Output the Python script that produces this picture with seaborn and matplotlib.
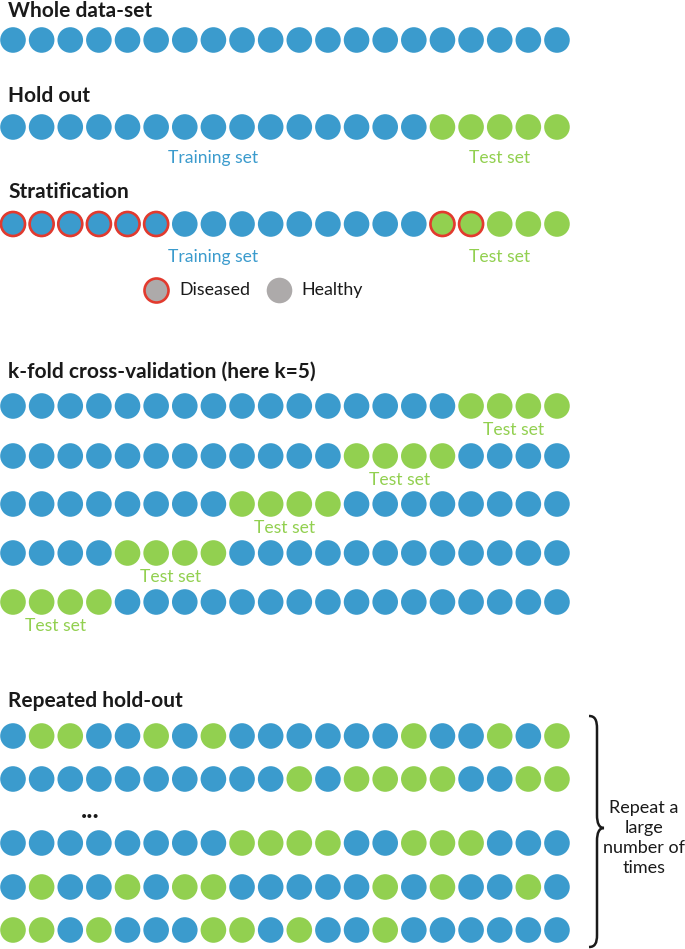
import pandas as pd
import matplotlib.pyplot as plt
import seaborn as sns
from matplotlib.path import Path
from matplotlib.patches import PathPatch

# colours
BLUE = "#3B9BCD"
GREEN = "#92D050"
RED = "#E23A2E"
GREY = "#ADAAAA"
INK = "#1A1A1A"

# ========================
# data: one string per row of samples, B = training, G = test
# ========================
whole = "BBBBBBBBBBBBBBBBBBBB"
holdout = "BBBBBBBBBBBBBBBGGGGG"
strat = "BBBBBBBBBBBBBBBGGGGG"
strat_diseased = "XXXXXX.........XX..."  # X = diseased sample
kfold = [
    "BBBBBBBBBBBBBBBBGGGG",
    "BBBBBBBBBBBBGGGGBBBB",
    "BBBBBBBBGGGGBBBBBBBB",
    "BBBBGGGGBBBBBBBBBBBB",
    "GGGGBBBBBBBBBBBBBBBB",
]
repeated = [
    "BGGBBGBGBBBBBBGBBGBG",
    "BBBBBBBBBBGBGGGGBBGG",
    "BBBBBBBBGGGGBBGGGBBB",
    "BGBBGBGGBBBBBGBGBBGB",
    "GGBGBBBGGBGBBGBBBBBB",
]
legend_labels = ["Diseased", "Healthy"]

# ========================
# layout (pixel rows of the 685x949 picture)
# ========================
row_y = {"whole": 40, "holdout": 127, "strat": 224}
kfold_y = [406, 456, 504, 553, 602]
repeated_y = [736, 779, 843, 887, 930]

rows = [("whole", whole, row_y["whole"]),
        ("holdout", holdout, row_y["holdout"]),
        ("strat", strat, row_y["strat"])]
rows += [(f"kfold{i}", r, y) for i, (r, y) in enumerate(zip(kfold, kfold_y))]
rows += [(f"rep{i}", r, y) for i, (r, y) in enumerate(zip(repeated, repeated_y))]

records = []
for name, pattern, y in rows:
    for i, c in enumerate(pattern):
        records.append({"row": name, "pos": i, "y": y,
                        "set": "train" if c == "B" else "test"})
df = pd.DataFrame(records)

strat_df = df[df["row"] == "strat"].copy()
strat_df["diseased"] = [c == "X" for c in strat_diseased]
diseased_df = strat_df[strat_df["diseased"]]

# ========================
# figure
# ========================
sns.set_style("white")
plt.rcParams["font.family"] = ["Lato", "DejaVu Sans"]

W, H = 685, 949
fig = plt.figure(figsize=(W / 100, H / 100), dpi=100)
ax = fig.add_axes([0, 0, 1, 1])
step = 28.63
ax.set_xlim(-13 / step, (W - 13) / step)
ax.set_ylim(H, 0)
ax.axis("off")

palette = {"train": BLUE, "test": GREEN}
MS = 340
sns.scatterplot(data=df, x="pos", y="y", hue="set", palette=palette,
                s=MS, linewidth=0, legend=False, ax=ax)
sns.scatterplot(data=diseased_df, x="pos", y="y", hue="set", palette=palette,
                s=MS * 0.88, edgecolor=RED, linewidth=1.9, legend=False, ax=ax)

# overlay in pixel units for text and the brace
ov = fig.add_axes([0, 0, 1, 1])
ov.set_xlim(0, W)
ov.set_ylim(H, 0)
ov.axis("off")
ov.patch.set_alpha(0)

title_kw = dict(fontsize=15, fontweight="bold", color=INK, ha="left", va="center")
ov.text(8, 11, "Whole data-set", **title_kw)
ov.text(8, 96, "Hold out", **title_kw)
ov.text(8, 192, "Stratification", **title_kw)
ov.text(8, 372, "k-fold cross-validation (here k=5)", **title_kw)
ov.text(8, 701, "Repeated hold-out", **title_kw)

lab_kw = dict(fontsize=12.6, ha="center", va="center")
for name, y in [("holdout", 158), ("strat", 257)]:
    r = df[df["row"] == name]
    ax.text(r[r["set"] == "train"]["pos"].mean(), y, "Training set", color=BLUE, **lab_kw)
    ax.text(r[r["set"] == "test"]["pos"].mean(), y, "Test set", color=GREEN, **lab_kw)

for i, y in enumerate(kfold_y):
    r = df[df["row"] == f"kfold{i}"]
    ax.text(r[r["set"] == "test"]["pos"].mean(), y + 24, "Test set", color=GREEN, **lab_kw)

# legend for stratification
leg = pd.DataFrame({"pos": [(156 - 13) / step, (279 - 13) / step],
                    "y": [290, 290], "label": legend_labels})
ax.scatter(leg["pos"][:1], leg["y"][:1], s=MS * 0.88, color=GREY, edgecolor=RED, linewidth=1.9)
ax.scatter(leg["pos"][1:], leg["y"][1:], s=MS, color=GREY, linewidth=0)
ov.text(179, 290, legend_labels[0], fontsize=12.8, color=INK, ha="left", va="center")
ov.text(301, 290, legend_labels[1], fontsize=12.8, color=INK, ha="left", va="center")

# ellipsis between repeated rows
ov.text(90, 810, "...", fontsize=19, fontweight="bold", color=INK, ha="center", va="center")

# curly brace
verts = [(589, 716), (595, 716), (597, 720), (597, 729),
         (597, 815),
         (597, 823), (599, 828), (604, 828),
         (599, 828), (597, 833), (597, 841),
         (597, 935),
         (597, 943), (595, 947), (589, 947)]
codes = [Path.MOVETO, Path.CURVE4, Path.CURVE4, Path.CURVE4,
         Path.LINETO,
         Path.CURVE4, Path.CURVE4, Path.CURVE4,
         Path.CURVE4, Path.CURVE4, Path.CURVE4,
         Path.LINETO,
         Path.CURVE4, Path.CURVE4, Path.CURVE4]
ov.add_patch(PathPatch(Path(verts, codes), facecolor="none", edgecolor=INK, lw=1.8))
ov.text(644, 838, "Repeat a\nlarge\nnumber of\ntimes", fontsize=13, color=INK,
        ha="center", va="center", linespacing=1.3)

fig.savefig("out.png", dpi=100)
